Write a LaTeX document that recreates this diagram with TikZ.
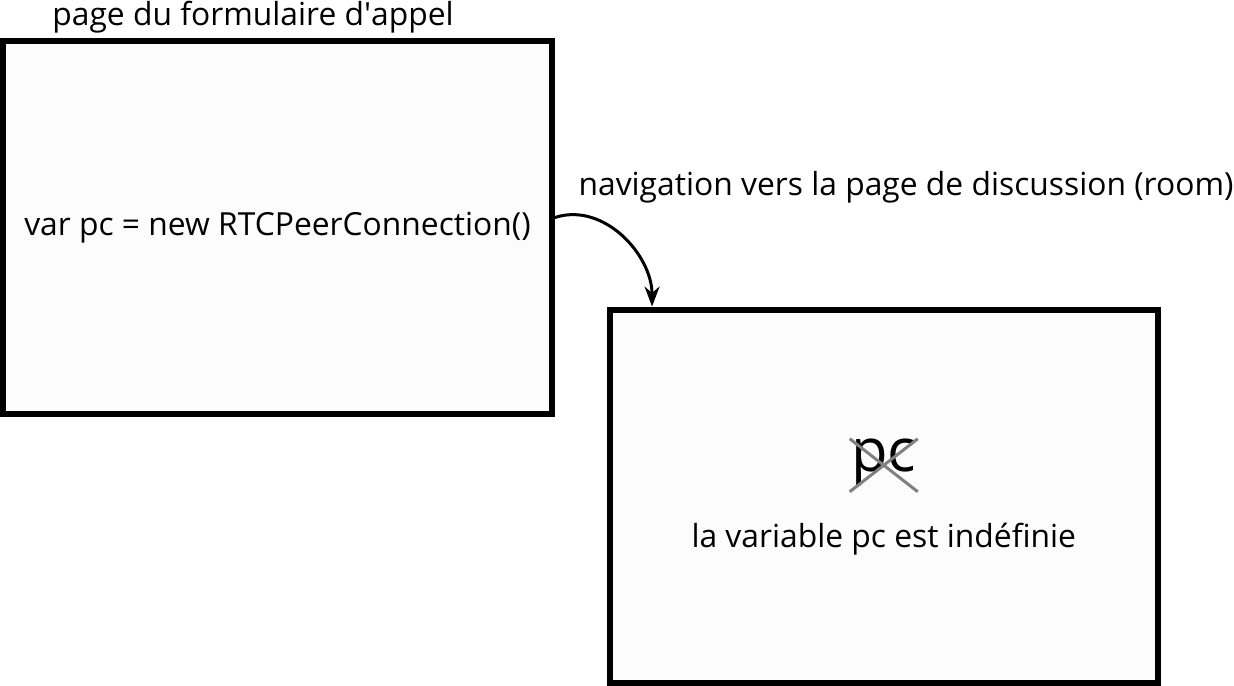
\documentclass[tikz,border=0pt]{standalone}
\usepackage{fontspec}
\setmainfont{Open Sans}
\usetikzlibrary{arrows.meta,positioning,shapes.misc}
\tikzset{font=\fontsize{18.1}{21}\selectfont}
\tikzset{page/.style={draw, line width=0.12cm, fill=black!1, inner sep=0pt}}
\tikzset{crossed/.style={cross out, draw=black!50, line width=0.06cm, inner xsep=0pt, inner ysep=0pt,
    text height=0.62cm, text depth=0.38cm, font=\fontsize{34}{40}\selectfont}}

\begin{document}
\begin{tikzpicture}[x=0.02cm,y=-0.02cm]
  \useasboundingbox (0,0) rectangle (1234,686);

  \node[page, minimum width=10.98cm, minimum height=7.46cm] (form) at (277.5,227.5) {var pc = new RTCPeerConnection()};
  \node[page, minimum width=10.97cm, minimum height=7.47cm] (room) at (883.75,496.25) {};

  \node (formtitle) at (253,17) {page du formulaire d\textquotesingle appel};
  \node (navlabel) at (906,187) {navigation vers la page de discussion (room)};

  \node[crossed] (pc) at ([yshift=0.62cm]room.center) {pc};
  \node[below=0.5cm of pc] (undef) {la variable pc est indéfinie};

  \draw[line width=0.06cm, -{Stealth[length=0.4cm, width=0.3cm]}]
    ([yshift=0.2cm]form.east) to[out=18, in=90] ([xshift=0.91cm]room.north west);
\end{tikzpicture}
\end{document}
